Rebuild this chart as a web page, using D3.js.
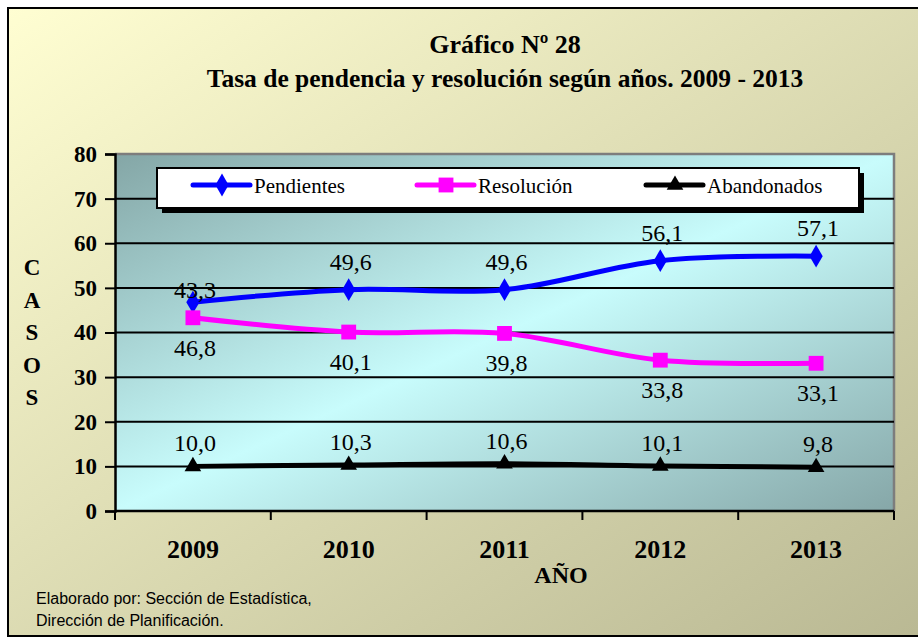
<!DOCTYPE html>
<html lang="es">
<head>
<meta charset="utf-8">
<title>Gráfico Nº 28</title>
<script src="https://d3js.org/d3.v7.min.js"></script>
<style>
  body { margin: 0; background: #fff; }
  svg { display: block; }
</style>
</head>
<body>
<script>
// Datos
var years = ["2009", "2010", "2011", "2012", "2013"];
var pendientes = [46.8, 49.6, 49.6, 56.1, 57.1];
var resolucion = [43.3, 40.1, 39.8, 33.8, 33.1];
var abandonados = [10.0, 10.3, 10.6, 10.1, 9.8];
// etiquetas tal como aparecen en el gráfico (la de 2009 está cruzada en el original)
var pendLabels = ["43,3", "49,6", "49,6", "56,1", "57,1"];
var resolLabels = ["46,8", "40,1", "39,8", "33,8", "33,1"];
var abanLabels = ["10,0", "10,3", "10,6", "10,1", "9,8"];
var yTicks = [0, 10, 20, 30, 40, 50, 60, 70, 80];

var SERIF = "'Liberation Serif', 'Times New Roman', serif";
var SANS = "'Liberation Sans', Arial, sans-serif";

var w = 918, h = 638;
var plot = { left: 115, right: 894, top: 154, bottom: 511 };

var svg = d3.select("body").append("svg")
    .attr("width", w)
    .attr("height", h);

var defs = svg.append("defs");

// fondo amarillo -> caqui
var bg = defs.append("linearGradient").attr("id", "bg")
    .attr("x1", 0).attr("y1", 0).attr("x2", 1).attr("y2", 1);
bg.append("stop").attr("offset", "0%").attr("stop-color", "#fffed2");
bg.append("stop").attr("offset", "100%").attr("stop-color", "#b9b893");

// fondo del área de trazado
var pg = defs.append("linearGradient").attr("id", "pg")
    .attr("x1", 0).attr("y1", 0).attr("x2", 1).attr("y2", 1);
pg.append("stop").attr("offset", "0%").attr("stop-color", "#84a6a6");
pg.append("stop").attr("offset", "50%").attr("stop-color", "#c8fcfc");
pg.append("stop").attr("offset", "100%").attr("stop-color", "#86a7a8");

svg.append("rect")
    .attr("x", 8).attr("y", 8)
    .attr("width", 930).attr("height", 628)
    .attr("fill", "url(#bg)")
    .attr("stroke", "#000")
    .attr("stroke-width", 2);

// Escalas
var xScale = d3.scaleBand()
    .domain(years)
    .range([plot.left, plot.right]);

var yScale = d3.scaleLinear()
    .domain([0, 80])
    .range([plot.bottom, plot.top]);

var cx = function(i) { return xScale(years[i]) + xScale.bandwidth() / 2; };

svg.append("rect")
    .attr("x", plot.left).attr("y", plot.top)
    .attr("width", plot.right - plot.left)
    .attr("height", plot.bottom - plot.top)
    .attr("fill", "url(#pg)");

// borde gris arriba y derecha
svg.append("path")
    .attr("d", "M" + plot.left + "," + plot.top + "H" + plot.right + "V" + plot.bottom)
    .attr("fill", "none")
    .attr("stroke", "#7d7d7d")
    .attr("stroke-width", 2.5);

// rejilla
svg.selectAll("line.grid")
    .data(yTicks.filter(function(d) { return d > 0 && d < 80; }))
    .enter().append("line")
    .attr("class", "grid")
    .attr("x1", plot.left).attr("x2", plot.right)
    .attr("y1", function(d) { return yScale(d); })
    .attr("y2", function(d) { return yScale(d); })
    .attr("stroke", "#000")
    .attr("stroke-width", 2);

// Ejes
var yAxis = d3.axisLeft(yScale).tickValues(yTicks).tickSize(10).tickPadding(8);
var gy = svg.append("g")
    .attr("transform", "translate(" + plot.left + ",0)")
    .call(yAxis)
    .attr("font-family", SERIF)
    .attr("font-size", 23)
    .attr("font-weight", "bold");
gy.select(".domain").attr("stroke-width", 2.5);
gy.selectAll(".tick line").attr("stroke-width", 2);
gy.selectAll(".tick text").attr("fill", "#000");

// eje x: marcas en los límites de cada categoría
var xEdges = years.map(function(d) { return xScale(d); }).concat([plot.right]);
var gx = svg.append("g");
gx.append("line")
    .attr("x1", plot.left).attr("x2", plot.right)
    .attr("y1", plot.bottom).attr("y2", plot.bottom)
    .attr("stroke", "#000").attr("stroke-width", 2.5);
gx.selectAll("line.tk")
    .data(xEdges)
    .enter().append("line")
    .attr("class", "tk")
    .attr("x1", function(d) { return d; }).attr("x2", function(d) { return d; })
    .attr("y1", plot.bottom).attr("y2", plot.bottom + 9)
    .attr("stroke", "#000").attr("stroke-width", 2);
gx.selectAll("text")
    .data(years)
    .enter().append("text")
    .attr("x", function(d, i) { return cx(i); })
    .attr("y", 558)
    .attr("text-anchor", "middle")
    .attr("font-family", SERIF)
    .attr("font-size", 26)
    .attr("font-weight", "bold")
    .text(function(d) { return d; });

// Títulos
svg.append("text")
    .attr("x", 505).attr("y", 53)
    .attr("text-anchor", "middle")
    .attr("font-family", SERIF)
    .attr("font-size", 26).attr("font-weight", "bold")
    .text("Gráfico Nº 28");
svg.append("text")
    .attr("x", 505).attr("y", 87)
    .attr("text-anchor", "middle")
    .attr("font-family", SERIF)
    .attr("font-size", 25.5).attr("font-weight", "bold")
    .text("Tasa de pendencia y resolución según años. 2009 - 2013");

svg.append("text")
    .attr("x", 561).attr("y", 583)
    .attr("text-anchor", "middle")
    .attr("font-family", SERIF)
    .attr("font-size", 24).attr("font-weight", "bold")
    .text("AÑO");

svg.selectAll("text.casos")
    .data("CASOS".split(""))
    .enter().append("text")
    .attr("class", "casos")
    .attr("x", 32)
    .attr("y", function(d, i) { return 275 + i * 32.5; })
    .attr("text-anchor", "middle")
    .attr("font-family", SERIF)
    .attr("font-size", 23).attr("font-weight", "bold")
    .text(function(d) { return d; });

// Series
var series = [
    { name: "Pendientes", values: pendientes, labels: pendLabels, color: "#0000ff", marker: d3.symbolDiamond, size: 150, dy: -20 },
    { name: "Resolución", values: resolucion, labels: resolLabels, color: "#ff00ff", marker: d3.symbolSquare, size: 220, dy: 38 },
    { name: "Abandonados", values: abandonados, labels: abanLabels, color: "#000000", marker: d3.symbolTriangle, size: 120, dy: -15 }
];

var line = d3.line()
    .x(function(d, i) { return cx(i); })
    .y(function(d) { return yScale(d); })
    .curve(d3.curveCatmullRom.alpha(0.5));

series.forEach(function(s) {
    svg.append("path")
        .datum(s.values)
        .attr("d", line)
        .attr("fill", "none")
        .attr("stroke", s.color)
        .attr("stroke-width", 5);

    svg.selectAll(null)
        .data(s.values)
        .enter().append("path")
        .attr("d", d3.symbol().type(s.marker).size(s.size))
        .attr("transform", function(d, i) {
            return "translate(" + cx(i) + "," + yScale(d) + ")";
        })
        .attr("fill", s.color);

    svg.selectAll(null)
        .data(s.values)
        .enter().append("text")
        .attr("x", function(d, i) { return cx(i) + 2; })
        .attr("y", function(d, i) {
            // la etiqueta "43,3" de 2009 queda pegada al punto
            if (s.name === "Pendientes" && i === 0) return yScale(d) - 4;
            return yScale(d) + s.dy;
        })
        .attr("text-anchor", "middle")
        .attr("font-family", SERIF)
        .attr("font-size", 24)
        .text(function(d, i) { return s.labels[i]; });
});

// Leyenda
var lg = svg.append("g");
lg.append("rect")
    .attr("x", 162).attr("y", 173)
    .attr("width", 702).attr("height", 40)
    .attr("fill", "#000");
lg.append("rect")
    .attr("x", 157).attr("y", 168)
    .attr("width", 702).attr("height", 40)
    .attr("fill", "#fff")
    .attr("stroke", "#000")
    .attr("stroke-width", 2);

var legendX = [193, 417, 646];
series.forEach(function(s, i) {
    var x0 = legendX[i];
    lg.append("line")
        .attr("x1", x0).attr("x2", x0 + 57)
        .attr("y1", 185).attr("y2", 185)
        .attr("stroke", s.color)
        .attr("stroke-width", 5)
        .attr("stroke-linecap", "round");
    lg.append("path")
        .attr("d", d3.symbol().type(s.marker).size(s.size))
        .attr("transform", "translate(" + (x0 + 29) + ",185)")
        .attr("fill", s.color);
    lg.append("text")
        .attr("x", x0 + 61).attr("y", 193)
        .attr("font-family", SERIF)
        .attr("font-size", 21)
        .text(s.name);
});

// Fuente
var foot = svg.append("text")
    .attr("font-family", SANS)
    .attr("font-size", 16);
foot.append("tspan").attr("x", 36).attr("y", 604).text("Elaborado por: Sección de Estadística,");
foot.append("tspan").attr("x", 36).attr("y", 626).text("Dirección de Planificación.");
</script>
</body>
</html>
